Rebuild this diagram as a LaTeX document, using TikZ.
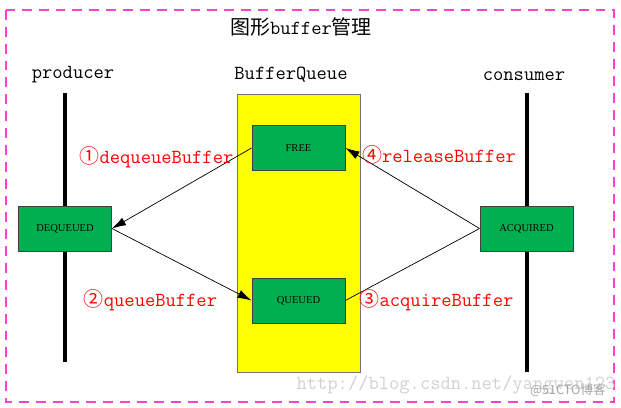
\documentclass[tikz,border=0pt]{standalone}
\usepackage{fontspec}
\setmainfont{Liberation Serif}
\newfontfamily\cjk{Noto Sans CJK SC}
\usetikzlibrary{arrows.meta}
\definecolor{frameMagenta}{RGB}{255,64,200}
\definecolor{boxGreen}{RGB}{0,176,80}
\definecolor{labelRed}{RGB}{255,0,0}
\definecolor{queueYellow}{RGB}{255,255,0}
\tikzset{
  txt/.style={font=\ttfamily\fontsize{14.2}{16}\selectfont, inner sep=0pt},
  opname/.style={txt, text=labelRed},
  statebox/.style={draw=black!75, fill=boxGreen, line width=0.6pt, inner sep=0pt,
    minimum width=2.325cm, minimum height=1.125cm, font=\fontsize{7.5}{8}\selectfont},
  lifeline/.style={line width=2.2pt},
  flow/.style={line width=0.5pt, -{Latex[length=10pt,width=6pt]}},
}
\begin{document}
\begin{tikzpicture}[x=0.025cm, y=-0.025cm]
            \useasboundingbox (0,0) rectangle (621,408);
            \draw[frameMagenta, line width=1.5pt, dash pattern=on 7pt off 5pt] (6,10) rectangle (614,402);
            \node[txt] (title) at (301,27) {{\cjk 图形}buffer{\cjk 管理}};
            \node[txt] (producer) at (73,75) {producer};
            \node[txt] (bqlabel) at (291,75) {BufferQueue};
            \node[txt] (consumer) at (524,76) {consumer};
            % life lines
            \coordinate (prodtop) at (65,93);
            \coordinate (prodbot) at (65,362);
            \coordinate (constop) at (527,93);
            \coordinate (consbot) at (527,372);
            \draw[lifeline] (prodtop) -- (prodbot);
            \draw[lifeline] (constop) -- (consbot);
            % the queue
            \node[draw=black!55, fill=queueYellow, line width=0.6pt, minimum width=3.075cm, minimum height=6.95cm] (queue) at (298.5,233) {};
            \node[statebox] (free) at (298.5,148) {FREE};
            \node[statebox] (queued) at (298.5,300.5) {QUEUED};
            \node[statebox] (dequeued) at (65,228.5) {DEQUEUED};
            \node[statebox] (acquired) at (526.5,228.5) {ACQUIRED};
            % buffer flow
            \draw[flow] (free.west) -- (dequeued.east);
            \draw[flow] (dequeued.east) -- (queued.west);
            \draw[line width=0.5pt] (acquired.west) -- (queued.east);
            \draw[flow] (acquired.west) -- (free.east);
            \node[opname] (op1) at (156.5,157) {{\cjk ①}dequeueBuffer};
            \node[opname] (op2) at (150.5,300) {{\cjk ②}queueBuffer};
            \node[opname] (op3) at (436.5,300) {{\cjk ③}acquireBuffer};
            \node[opname] (op4) at (439,155) {{\cjk ④}releaseBuffer};
            % watermarks
            \node[txt, text=black!18] (url) at (456,385) {http://blog.csdn.net/yangwen123};
            \node[inner sep=0pt, text=black!35, font=\cjk\fontsize{9}{10}\selectfont] (mark) at (568,390) {@51CTO博客};
        \end{tikzpicture}
\end{document}
